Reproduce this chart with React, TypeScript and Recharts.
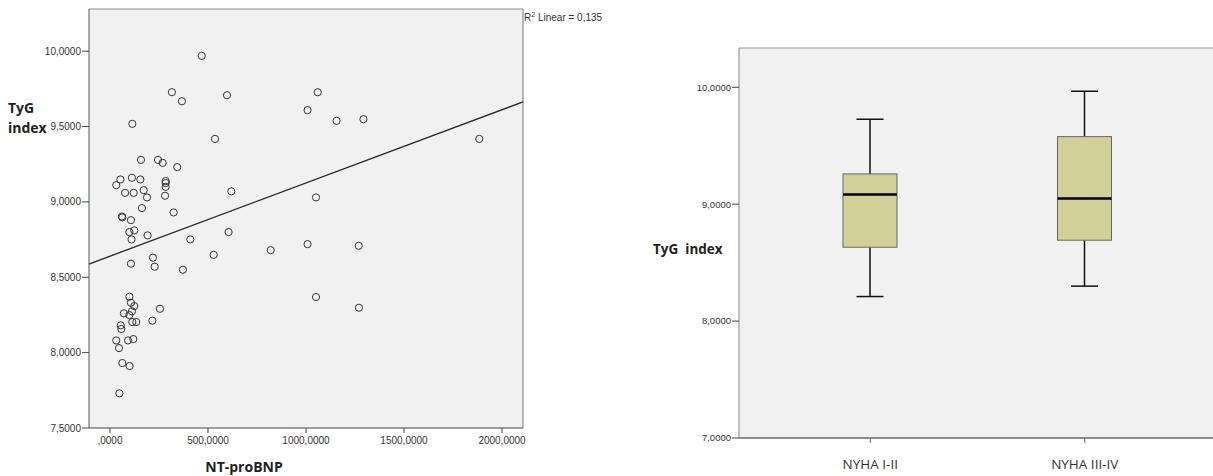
import { ScatterChart, Scatter, ComposedChart, Bar, XAxis, YAxis, CartesianGrid, ReferenceLine } from 'recharts';

// NT-proBNP (pg/mL) vs TyG index, one entry per patient
const ntProBnp = [
  468, 316, 367, 597, 1008, 1060, 114, 536, 158, 245, 269, 343, 53, 32, 112, 155, 284, 284, 284,
  77, 121, 172, 189, 281, 619, 1051, 163, 325, 61, 63, 107, 99, 124, 192, 605, 110, 410, 107,
  219, 228, 372, 529, 820, 1008, 1051, 99, 107, 124, 71, 99, 112, 114, 134, 255, 216, 55, 58,
  32, 92, 119, 46, 63, 100, 48, 1156, 1293, 1884, 1269, 1270,
];
const tygIndex = [
  9.969, 9.728, 9.668, 9.708, 9.609, 9.728, 9.518, 9.418, 9.279, 9.279, 9.259, 9.231, 9.149,
  9.111, 9.16, 9.149, 9.138, 9.125, 9.1, 9.06, 9.06, 9.078, 9.03, 9.041, 9.07, 9.03, 8.959,
  8.93, 8.903, 8.897, 8.879, 8.8, 8.811, 8.778, 8.8, 8.751, 8.751, 8.59, 8.63, 8.57, 8.55,
  8.649, 8.68, 8.72, 8.369, 8.371, 8.331, 8.309, 8.261, 8.249, 8.274, 8.203, 8.203, 8.291,
  8.212, 8.181, 8.157, 8.081, 8.081, 8.09, 8.03, 7.931, 7.911, 7.73, 9.538, 9.549, 9.418,
  8.709, 8.298,
];

// linear fit line, R² = 0,135
const fitIntercept = 8.64;
const fitSlope = 0.000486;

const bnpTicks = [0, 500, 1000, 1500, 2000];
const tygTicks = [7.5, 8, 8.5, 9, 9.5, 10];

// box plot by NYHA class
const nyhaGroups = ['NYHA I-II', 'NYHA III-IV'];
const whiskerLow = [8.21, 8.299];
const quartile1 = [8.632, 8.692];
const medians = [9.082, 9.048];
const quartile3 = [9.259, 9.578];
const whiskerHigh = [9.726, 9.966];
const boxTicks = [7, 8, 9, 10];

const X_MIN = -107;
const X_MAX = 2107;
const Y_MAX = 10.28;
const BOX_Y_MAX = 10.336;

const scatterData = ntProBnp.map((x, i) => ({ x, y: tygIndex[i] }));
const boxData = nyhaGroups.map((group, i) => ({
  group,
  low: whiskerLow[i],
  q1: quartile1[i],
  median: medians[i],
  q3: quartile3[i],
  high: whiskerHigh[i],
}));

const fmt = (v: number) => {
  const s = v.toFixed(4).replace('.', ',');
  return s.startsWith('0,') ? s.slice(1) : s;
};

const tickFont = { fontFamily: 'Liberation Sans, Arial, sans-serif', fontSize: 10, fill: '#333' };
const titleFont = { fontFamily: 'Open Sans, sans-serif', fontWeight: 700, fill: '#222' };
const PLOT_BG = '#f0f1f0';

const OpenCircle = (props: any) => (
  <circle cx={props.cx} cy={props.cy} r={3.6} fill="none" stroke="#333" strokeWidth={1} />
);

// draws whiskers, box and median inside the bar's low..high range
const BoxShape = (props: any) => {
  const { x, y, width, height, payload } = props;
  const top = Math.min(y, y + height);
  const bottom = Math.max(y, y + height);
  const span = payload.high - payload.low;
  const toY = (v: number) => bottom - ((v - payload.low) / span) * (bottom - top);
  const cx = x + width / 2;
  const cap = width / 4;
  const yQ1 = toY(payload.q1);
  const yQ3 = toY(payload.q3);
  const yMed = toY(payload.median);
  return (
    <g>
      <line x1={cx} x2={cx} y1={top} y2={yQ3} stroke="#111" strokeWidth={1.5} />
      <line x1={cx} x2={cx} y1={yQ1} y2={bottom} stroke="#111" strokeWidth={1.5} />
      <line x1={cx - cap} x2={cx + cap} y1={top} y2={top} stroke="#111" strokeWidth={1.5} />
      <line x1={cx - cap} x2={cx + cap} y1={bottom} y2={bottom} stroke="#111" strokeWidth={1.5} />
      <rect x={x} y={yQ3} width={width} height={yQ1 - yQ3} fill="#d3cf98" stroke="#666" strokeWidth={1} />
      <line x1={x} x2={x + width} y1={yMed} y2={yMed} stroke="#000" strokeWidth={2.5} />
    </g>
  );
};

const App = () => {
  return (
    <div style={{ position: 'absolute', left: 0, top: 0, width: 1213, height: 476, overflow: 'hidden', background: '#fff' }}>
      <div style={{ position: 'absolute', left: 0, top: 0 }}>
        <ScatterChart width={540} height={476} margin={{ top: 9, right: 17, bottom: 18, left: 0 }}>
          <CartesianGrid fill={PLOT_BG} stroke="none" horizontal={false} vertical={false} />
          <XAxis
            type="number"
            dataKey="x"
            domain={[X_MIN, X_MAX]}
            ticks={bnpTicks}
            tickFormatter={fmt}
            allowDataOverflow
            height={30}
            tickSize={5}
            tickMargin={4}
            tick={tickFont}
            axisLine={{ stroke: '#444' }}
            tickLine={{ stroke: '#444' }}
          />
          <YAxis
            type="number"
            dataKey="y"
            domain={[7.5, Y_MAX]}
            ticks={tygTicks}
            tickFormatter={fmt}
            allowDataOverflow
            width={89}
            tickSize={7}
            tickMargin={1}
            tick={tickFont}
            axisLine={{ stroke: '#555' }}
            tickLine={{ stroke: '#444' }}
          />
          <ReferenceLine y={Y_MAX} stroke="#8c8c8c" strokeWidth={1.2} />
          <ReferenceLine x={X_MAX} stroke="#8c8c8c" strokeWidth={1.2} />
          <ReferenceLine
            segment={[
              { x: X_MIN, y: fitIntercept + fitSlope * X_MIN },
              { x: X_MAX, y: fitIntercept + fitSlope * X_MAX },
            ]}
            stroke="#222"
            strokeWidth={1.3}
            ifOverflow="visible"
          />
          <Scatter data={scatterData} shape={OpenCircle} isAnimationActive={false} />
        </ScatterChart>
      </div>

      <div style={{ position: 'absolute', left: 620, top: 0 }}>
        <ComposedChart width={594} height={476} data={boxData} margin={{ top: 48, right: 0, bottom: 8, left: 0 }}>
          <CartesianGrid fill={PLOT_BG} stroke="none" horizontal={false} vertical={false} />
          <XAxis
            dataKey="group"
            type="category"
            padding={{ left: 24, right: 22 }}
            height={30}
            tickSize={5}
            tickMargin={16}
            tick={{ fontFamily: 'Open Sans, sans-serif', fontSize: 13.5, fill: '#333' }}
            axisLine={{ stroke: '#222' }}
            tickLine={{ stroke: '#666' }}
          />
          <YAxis
            type="number"
            domain={[7, BOX_Y_MAX]}
            ticks={boxTicks}
            tickFormatter={fmt}
            allowDataOverflow
            width={119}
            tickSize={7}
            tickMargin={1}
            tick={{ ...tickFont, fontSize: 9.5 }}
            axisLine={{ stroke: '#888' }}
            tickLine={{ stroke: '#444' }}
          />
          <ReferenceLine y={BOX_Y_MAX} stroke="#999" strokeWidth={1.2} />
          <Bar
            dataKey={(d: any) => [d.low, d.high]}
            barSize={54}
            shape={BoxShape}
            isAnimationActive={false}
          />
        </ComposedChart>
      </div>

      <svg width={1213} height={476} style={{ position: 'absolute', left: 0, top: 0, pointerEvents: 'none' }}>
        <text x={8} y={113} fontSize={14} {...titleFont}>TyG</text>
        <text x={8} y={133} fontSize={14} {...titleFont}>index</text>
        <text x={244} y={472} fontSize={14} textAnchor="middle" {...titleFont}>NT-proBNP</text>
        <text x={653} y={254} fontSize={13.5} style={{ whiteSpace: 'pre' }} {...titleFont}>TyG  index</text>
        <text x={524} y={21} fontFamily="Liberation Sans, Arial, sans-serif" fontSize={10} fill="#333">
          R<tspan fontSize={7} dy={-4}>2</tspan><tspan dy={4}> Linear = 0,135</tspan>
        </text>
      </svg>
    </div>
  );
};

export default App;
